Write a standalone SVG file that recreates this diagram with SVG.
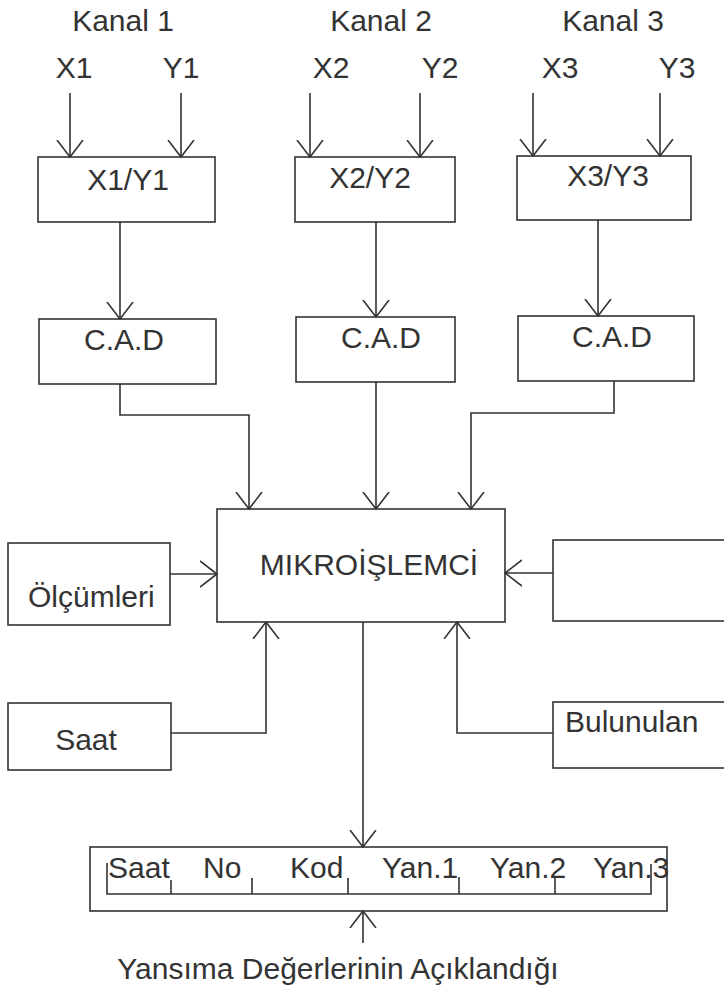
<svg xmlns="http://www.w3.org/2000/svg" width="724" height="999" viewBox="0 0 724 999">
<defs>
<style>
text{font-family:"Liberation Sans",Arial,sans-serif;font-size:30px;fill:#333}
.box{fill:none;stroke:#333;stroke-width:1.6}
.ln{fill:none;stroke:#333;stroke-width:1.6}
.ar{marker-end:url(#arr)}
</style>
<marker id="arr" markerUnits="userSpaceOnUse" viewBox="0 0 18 28" markerWidth="18" markerHeight="28" refX="17" refY="14" orient="auto">
<path d="M0,1 L17,14 L0,27" fill="none" stroke="#333" stroke-width="1.6"/>
</marker>
</defs>
<rect width="724" height="999" fill="#fff"/>
<g id="labels">
<text x="123" y="31" text-anchor="middle">Kanal 1</text>
<text x="381" y="31" text-anchor="middle">Kanal 2</text>
<text x="613" y="31" text-anchor="middle">Kanal 3</text>
<text x="74" y="78" text-anchor="middle">X1</text>
<text x="181" y="78" text-anchor="middle">Y1</text>
<text x="331" y="78" text-anchor="middle">X2</text>
<text x="440" y="78" text-anchor="middle">Y2</text>
<text x="560" y="78" text-anchor="middle">X3</text>
<text x="677" y="78" text-anchor="middle">Y3</text>
</g>
<g id="xy1"><rect class="box" x="38" y="157" width="177" height="65"/><text x="128" y="190" text-anchor="middle">X1/Y1</text></g>
<g id="xy2"><rect class="box" x="295" y="157" width="160" height="65"/><text x="370" y="188" text-anchor="middle">X2/Y2</text></g>
<g id="xy3"><rect class="box" x="517" y="156" width="174" height="64"/><text x="608" y="186" text-anchor="middle">X3/Y3</text></g>
<g id="cad1"><rect class="box" x="39" y="319" width="177" height="65"/><text x="124" y="350" text-anchor="middle">C.A.D</text></g>
<g id="cad2"><rect class="box" x="296" y="317" width="159" height="65"/><text x="381" y="348" text-anchor="middle">C.A.D</text></g>
<g id="cad3"><rect class="box" x="518" y="316" width="176" height="65"/><text x="612" y="347" text-anchor="middle">C.A.D</text></g>
<g id="mikro"><rect class="box" x="217" y="509" width="288" height="113"/><text x="369" y="575" text-anchor="middle">MIKROİŞLEMCİ</text></g>
<g id="olcumleri"><rect class="box" x="8" y="543" width="162" height="82"/><text x="28" y="607">Ölçümleri</text></g>
<g id="rightbox"><rect class="box" x="553" y="540" width="190" height="81"/></g>
<g id="saat"><rect class="box" x="8" y="703" width="163" height="67"/><text x="86" y="750" text-anchor="middle">Saat</text></g>
<g id="bulunulan"><rect class="box" x="553" y="702" width="190" height="66"/><text x="565" y="732">Bulunulan</text></g>
<g id="record">
<rect class="box" x="90" y="847" width="577" height="64"/>
<path class="ln" d="M107,863 V894 H651 V864 M171,880 V894 M252,878 V894 M348,878 V894 M459,877 V894 M555,877 V894"/>
<text x="108" y="878">Saat</text>
<text x="203" y="878">No</text>
<text x="290" y="878">Kod</text>
<text x="382" y="878">Yan.1</text>
<text x="490" y="878">Yan.2</text>
<text x="593" y="878">Yan.3</text>
</g>
<g id="caption"><text x="338" y="979" text-anchor="middle">Yansıma Değerlerinin Açıklandığı</text></g>
<g id="connectors">
<path class="ln ar" d="M70,93 V157"/>
<path class="ln ar" d="M181,93 V157"/>
<path class="ln ar" d="M310,93 V157"/>
<path class="ln ar" d="M420,93 V157"/>
<path class="ln ar" d="M533,93 V156"/>
<path class="ln ar" d="M660,93 V156"/>
<path class="ln ar" d="M120,222 V319"/>
<path class="ln ar" d="M376,222 V317"/>
<path class="ln ar" d="M598,220 V316"/>
<path class="ln ar" d="M120,384 V415 H249 V509"/>
<path class="ln ar" d="M376,382 V509"/>
<path class="ln ar" d="M614,381 V413 H471 V509"/>
<path class="ln ar" d="M170,574 H217"/>
<path class="ln ar" d="M553,573 H505"/>
<path class="ln ar" d="M171,733 H266 V622"/>
<path class="ln ar" d="M553,733 H457 V622"/>
<path class="ln ar" d="M363,622 V847"/>
<path class="ln ar" d="M363,943 V911"/>
</g>
</svg>
